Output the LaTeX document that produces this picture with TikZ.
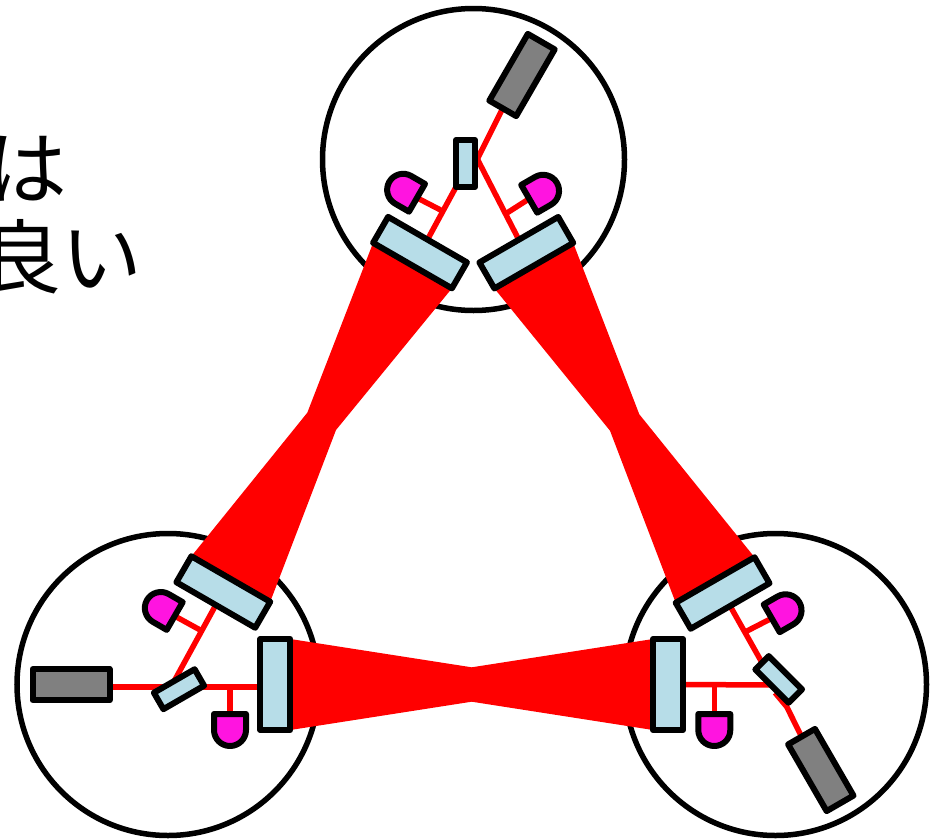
\documentclass[tikz,border=0pt]{standalone}
\usepackage{fontspec}
\newfontfamily\jpfont{Noto Sans CJK JP}
\usetikzlibrary{backgrounds,calc}
\definecolor{optblue}{HTML}{B7DDE8}
\definecolor{detmag}{HTML}{FF14E0}
\tikzset{
  detector/.pic={
    \draw[line width=.06cm,line join=round,fill=detmag] (-.16,0)--(.16,0)--(.16,-.16)
      arc[start angle=0,end angle=-180,radius=.16]--cycle;
    \coordinate (-in) at (0,0);
  }
}
\begin{document}
\begin{tikzpicture}[
  part/.style={draw,line width=.06cm,line join=round,inner sep=0pt,outer sep=0pt},
  bigmir/.style={part,fill=optblue,minimum width=.91cm,minimum height=.30cm},
  smallmir/.style={part,fill=optblue,minimum width=.47cm,minimum height=.19cm},
  laser/.style={part,fill=gray,minimum width=.77cm,minimum height=.31cm},
  ring/.style={circle,draw,line width=.055cm,inner sep=0pt,minimum size=3.02cm},
  ray/.style={red,line width=.055cm},
  wide/.style={fill=red}]
  \useasboundingbox (0,0) rectangle (9.38,8.39);
  \begin{scope}
    \clip (0,0) rectangle (9.38,8.39);
    \node[anchor=east,inner sep=0pt,font=\jpfont\fontsize{23}{27}\selectfont] (txtA) at (.68,6.70){は};
    \node[anchor=east,inner sep=0pt,font=\jpfont\fontsize{23}{27}\selectfont] (txtB) at (1.43,5.82){良い};
  \end{scope}

  \node[laser,rotate=60] (lasT) at (5.22,7.64){};
  \node[smallmir,rotate=90] (mirT) at (4.655,6.755){};
  \node[bigmir,rotate=-30] (mirTL) at (4.20,5.864){};
  \node[bigmir,rotate=30] (mirTR) at (5.263,5.863){};
  \pic[rotate=-120] (detTL) at (4.17,6.412){detector};
  \pic[rotate=120] (detTR) at (5.292,6.402){detector};

  \node[laser] (lasL) at (.71,1.543){};
  \node[smallmir,rotate=30] (mirLS) at (1.79,1.498){};
  \node[bigmir,rotate=-30] (mirLU) at (2.233,2.47){};
  \node[bigmir,rotate=90] (mirLV) at (2.753,1.545){};
  \pic[rotate=-120] (detLU) at (1.747,2.23){detector};
  \pic (detLB) at (2.30,1.25){detector};

  \node[laser,rotate=-60] (lasR) at (8.208,.69){};
  \node[smallmir,rotate=-45] (mirRS) at (7.787,1.596){};
  \node[bigmir,rotate=30] (mirRU) at (7.226,2.46){};
  \node[bigmir,rotate=90] (mirRV) at (6.68,1.545){};
  \pic[rotate=120] (detRU) at (7.717,2.207){detector};
  \pic (detRB) at (7.143,1.25){detector};

  \coordinate (hitT) at (4.773,6.80);
  \coordinate (hitL) at (1.57,1.52);
  \coordinate (hitR) at (7.72,1.54);
  \coordinate (hitRb) at (7.75,1.463);
  \coordinate (bendR) at (7.867,1.323);
  \coordinate (jTL) at ($(mirT.north west)!.46!(mirTL.north)$);
  \coordinate (jTR) at ($(hitT)!.68!(mirTR.north)$);
  \coordinate (jLU) at ($(mirLS.north)!.66!(mirLU.south)$);
  \coordinate (jRU) at ($(mirRU.south)!.46!(mirRS.west)$);

  \begin{scope}[on background layer]
    \node[ring] (cirT) at (4.735,6.795){};
    \node[ring] (cirL) at (1.68,1.545){};
    \node[ring] (cirR) at (7.755,1.545){};

    \fill[wide] (mirTL.south west)--(3.073,4.263)--(mirLU.north west)--(mirLU.north east)
      --(3.36,4.09)--(mirTL.south east)--cycle;
    \fill[wide] (mirTR.south east)--(6.393,4.247)--(mirRU.north east)--(mirRU.north west)
      --(6.10,4.083)--(mirTR.south west)--cycle;
    \fill[wide] (mirLV.south east)--(4.717,1.717)--(mirRV.north east)--(mirRV.north west)
      --(4.717,1.373)--(mirLV.south west)--cycle;

    \draw[ray] (lasT.west)--(hitT);
    \draw[ray] (hitT)--(mirTR.north);
    \draw[ray] (mirT.north west)--(mirTL.north);
    \draw[ray] (jTL)--(detTL-in);
    \draw[ray] (jTR)--(detTR-in);

    \draw[ray] (lasL.east |- hitL)--(mirLV.north |- hitL);
    \draw[ray] (mirLS.north)--(mirLU.south);
    \draw[ray] (jLU)--(detLU-in);
    \draw[ray] (detLB-in |- hitL)--(detLB-in);

    \draw[ray] (mirRU.south)--(mirRS.west);
    \draw[ray] (jRU)--(detRU-in);
    \draw[ray] (mirRV.south)--(hitR);
    \draw[ray] (detRB-in |- hitR)--(detRB-in);
    \draw[ray] (hitRb)--(bendR)--(lasR.west);
  \end{scope}
\end{tikzpicture}
\end{document}
